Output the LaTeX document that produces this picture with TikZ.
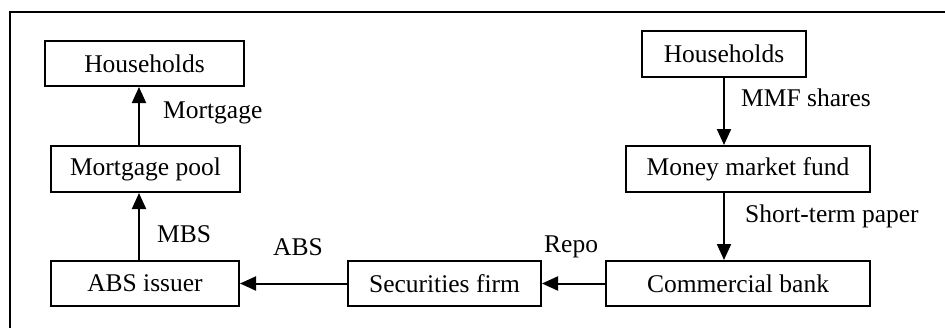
\documentclass[tikz,border=0pt]{standalone}
\usepackage{fontspec}
\setmainfont{Liberation Serif}
\usetikzlibrary{arrows.meta}
\begin{document}
\begin{tikzpicture}[x=1pt,y=-1pt,
  font=\fontsize{25.5}{28}\selectfont,
  box/.style={draw,line width=2pt,inner sep=0pt,anchor=center},
  flow/.style={line width=2pt,-{Triangle[length=16pt,width=14pt]}},
  lbl/.style={inner sep=0pt,anchor=base west}]
\useasboundingbox (0,0) rectangle (945,327);
% outer frame
\draw[line width=1.2pt] (10,340) -- (10,12) -- (960,12);
% left column
\node[box,minimum width=199pt,minimum height=45pt] (hhL) at (144.5,63.5) {Households};
\node[box,minimum width=189pt,minimum height=46pt] (mp) at (145.5,169) {Mortgage pool};
\node[box,minimum width=188pt,minimum height=45pt] (abs) at (145,283.5) {ABS issuer};
% bottom row
\node[box,minimum width=193pt,minimum height=45pt] (sec) at (444.5,283.5) {Securities firm};
\node[box,minimum width=264pt,minimum height=45pt] (cb) at (738,283.5) {Commercial bank};
% right column
\node[box,minimum width=244pt,minimum height=46pt] (mmf) at (748,169) {Money market fund};
\node[box,minimum width=164pt,minimum height=46pt] (hhR) at (724,54) {Households};
% connectors
\coordinate (lx) at (139,0);
\draw[flow] (lx |- mp.north) -- (lx |- hhL.south);
\draw[flow] (lx |- abs.north) -- (lx |- mp.south);
\draw[flow] (sec.west) -- (abs.east);
\draw[flow] (cb.west) -- (sec.east);
\draw[flow] (hhR.south) -- (hhR.south |- mmf.north);
\draw[flow] (hhR.south |- mmf.south) -- (hhR.south |- cb.north);
% flow labels
\node[lbl] (lmort) at (163,118) {Mortgage};
\node[lbl] (lmbs) at (157,242) {MBS};
\node[lbl] (labs) at (273,255) {ABS};
\node[lbl] (lrepo) at (544,252) {Repo};
\node[lbl] (lmmf) at (741,106) {MMF shares};
\node[lbl] (lstp) at (745,222) {Short-term paper};
\end{tikzpicture}
\end{document}
